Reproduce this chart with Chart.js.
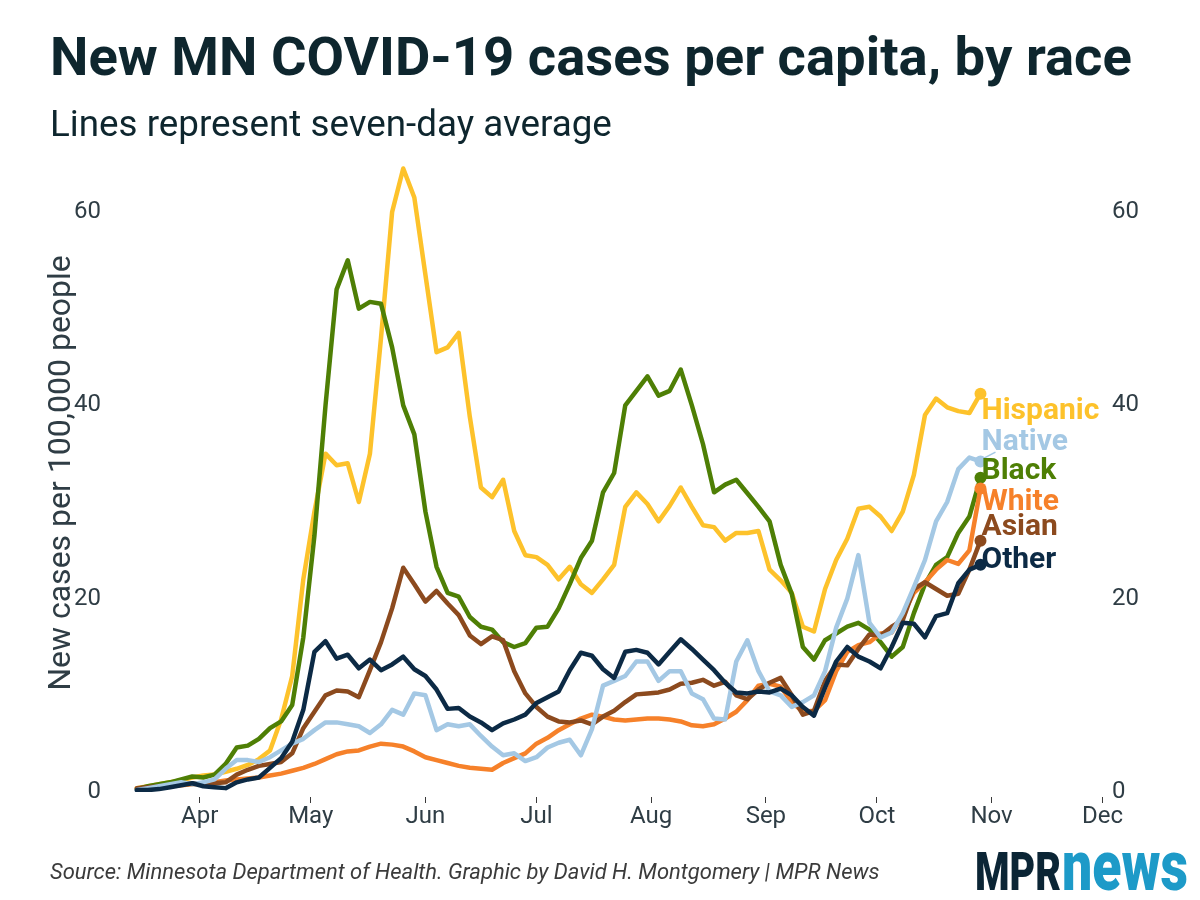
<!DOCTYPE html>
<html>
<head>
<meta charset="utf-8">
<script src="https://cdn.jsdelivr.net/npm/chart.js@4.4.0/dist/chart.umd.min.js"></script>
<style>
html,body{margin:0;padding:0;background:#fff;}
#wrap{position:relative;width:1200px;height:900px;overflow:hidden;background:#fff;}
#chart{position:absolute;left:0;top:0;}
.t{position:absolute;white-space:nowrap;line-height:1;font-family:Roboto,"Noto Sans",sans-serif;z-index:2;}
#title{font-weight:700;color:#0e262e;}
#subtitle{font-weight:400;color:#0e262e;}
#source{font-style:italic;font-weight:400;color:#3b3b3b;}
#logo{position:absolute;left:975px;top:0;height:900px;z-index:2;}
#logo span{position:absolute;white-space:nowrap;line-height:1;font-family:Roboto,sans-serif;transform-origin:0 0;}
#mpr{color:#0b2535;font-weight:900;}
#news{color:#1d9ac8;font-weight:900;}
</style>
</head>
<body>
<div id="wrap">
  <canvas id="chart" width="1200" height="900"></canvas>
  <div class="t" id="title">New MN COVID-19 cases per capita, by race</div>
  <div class="t" id="subtitle">Lines represent seven-day average</div>
  <div class="t" id="source">Source: Minnesota Department of Health. Graphic by David H. Montgomery | MPR News</div>
  <div id="logo"><span id="mpr">MPR</span><span id="news">news</span></div>
</div>
<script>
// ---- data (day of year 2020, Jan 1 = 0) ----
const days = [74,77,80,83,86,89,92,95,98,101,104,107,110,113,116,119,122,125,128,131,134,137,140,143,146,149,152,155,158,161,164,167,170,173,176,179,182,185,188,191,194,197,200,203,206,209,212,215,218,221,224,227,230,233,236,239,242,245,248,251,254,257,260,263,266,269,272,275,278,281,284,287,290,293,296,299,302];

const hispanic = [0.4,0.6,0.8,1.0,1.2,1.5,1.7,1.8,2.1,2.4,2.8,3.4,4.3,7.5,12,22,29,35,33.8,34,30,35,47,60,64.5,61.5,53.5,45.5,46,47.5,38.8,31.5,30.5,32.3,27,24.5,24.3,23.5,22,23.3,21.5,20.6,22,23.5,29.5,31,29.8,28,29.6,31.5,29.5,27.6,27.4,26,26.8,26.8,27,23,21.9,20.6,17.1,16.6,21,24,26.2,29.3,29.5,28.5,27,29,32.8,39,40.7,39.8,39.4,39.2,41.2];
const native = [0.2,0.4,0.6,0.8,1.0,0.8,1.0,1.3,2.4,3.3,3.3,3.1,3.6,4.3,5.0,5.5,6.4,7.2,7.2,7.0,6.8,6.1,7.0,8.5,8.0,10.2,10.0,6.4,7.0,6.8,7.0,5.8,4.7,3.8,4.0,3.2,3.6,4.6,5.1,5.4,3.8,6.5,11,11.5,12,13.5,13.5,11.5,12.5,12.5,10.2,9.6,7.6,7.5,13.5,15.7,12.5,10.4,10,8.8,9.3,10,12.5,17,20,24.5,17.5,16,16.5,18.5,21.2,24,28,30,33.4,34.6,34.2];
const black = [0.3,0.6,0.8,1.0,1.3,1.6,1.5,1.8,2.9,4.6,4.8,5.5,6.6,7.3,9.0,16,26.5,40,52,55,50,50.7,50.5,46,40,37,29,23.3,20.6,20.2,18.1,17.1,16.8,15.5,15,15.4,17,17.1,19,21.5,24.2,26,31,33,40,41.5,43,41,41.5,43.7,40,36,31,31.8,32.3,30.9,29.5,28,23.5,20.5,15,13.7,15.7,16.4,17.1,17.5,16.8,15.5,14,15,18.5,21.5,23.5,24.3,26.8,28.5,32.5];
const white = [0.3,0.4,0.5,0.6,0.7,0.8,0.9,1.0,1.2,1.3,1.4,1.5,1.7,1.9,2.2,2.5,2.9,3.4,3.9,4.2,4.3,4.7,5.0,4.9,4.7,4.2,3.6,3.3,3.0,2.7,2.5,2.4,2.3,3.0,3.5,4.0,5.0,5.6,6.4,7.0,7.6,8.0,7.8,7.5,7.4,7.5,7.6,7.6,7.5,7.3,6.9,6.8,7.0,7.6,8.3,9.5,11.0,11.2,10.9,9.3,8.3,8.4,9.5,12.5,14.5,15.2,15.5,16.4,16.5,18.3,20.6,21.7,23,24,23.6,25,31.4];
const asian = [0.4,0.5,0.6,0.7,0.8,0.9,0.8,0.9,1.0,1.8,2.3,2.7,2.9,3.1,4.0,6.6,8.3,10.0,10.5,10.4,9.8,12.6,15.5,19,23.2,21.5,19.7,20.8,19.5,18.3,16.2,15.3,16.1,15.7,12.5,10.2,8.8,7.8,7.3,7.2,7.4,7.0,7.8,8.4,9.3,10.1,10.2,10.3,10.6,11.2,11.3,11.6,11,11.4,10.0,9.6,10.6,11.3,11.8,10,8.0,8.4,11.5,13.2,13.1,14.8,16.3,16.2,17.1,17.8,21,21.7,21,20.3,20.5,23,26];
const other = [0.2,0.2,0.3,0.5,0.7,0.9,0.6,0.5,0.4,1.0,1.3,1.5,2.5,3.5,5.2,8.5,14.5,15.6,13.8,14.2,12.8,13.7,12.6,13.2,14.0,12.7,12.0,10.6,8.6,8.7,7.8,7.2,6.4,7.1,7.5,8.0,9.2,9.8,10.4,12.6,14.4,14.1,12.7,11.8,14.5,14.7,14.4,13.2,14.5,15.8,14.8,13.7,12.6,11.3,10.3,10.2,10.4,10.3,10.7,10.0,8.8,7.9,10.8,13.5,15,14,13.5,12.8,15,17.5,17.4,16,18.2,18.5,21.6,23,23.5];

const seriesNames = ['Hispanic','Native','Black','White','Asian','Other'];
const seriesValues = [hispanic, native, black, white, asian, other];
const monthDays = [91,121,152,182,213,244,274,305,335];
const monthLabels = ['Apr','May','Jun','Jul','Aug','Sep','Oct','Nov','Dec'];
const yTicks = [0,20,40,60];

// ---- styles / label placement ----
const seriesColors = ['#fdc22b','#a4c8e4','#4e7f05','#f6812a','#8c4a1e','#0c2a45'];
const drawOrder = [5,1,4,3,2,0];           // lower = drawn on top
const labelAt = [39.4,36.2,33.2,30.0,27.4,24.0]; // label centres, in data units
const connector = [false,true,false,false,false,false];

// ---- text fitting for header/footer ----
const meas = document.createElement('canvas').getContext('2d');
function place(id, font, text, targetW, left, baseline){
  meas.font = font + ' 100px Roboto';
  const w = meas.measureText(text).width;
  const size = 100 * targetW / w;
  const el = document.getElementById(id);
  el.style.fontSize = size.toFixed(2) + 'px';
  el.style.left = left + 'px';
  el.style.top = (baseline - 0.8415 * size).toFixed(1) + 'px';
}
place('title','700','New MN COVID-19 cases per capita, by race',1082,50,75);
place('subtitle','400','Lines represent seven-day average',562,50,137);
place('source','italic 400','Source: Minnesota Department of Health. Graphic by David H. Montgomery | MPR News',830,50,879);

function logoPart(id, text, capH, capRatio, targetW, left, baseline){
  const size = capH / capRatio;
  meas.font = '900 ' + size + 'px Roboto';
  const w = meas.measureText(text).width;
  const el = document.getElementById(id);
  el.style.fontSize = size.toFixed(2) + 'px';
  el.style.left = left + 'px';
  el.style.top = (baseline - 0.8415 * size).toFixed(1) + 'px';
  el.style.transform = 'scaleX(' + (targetW / w).toFixed(3) + ')';
}
logoPart('mpr','MPR',38,0.711,86,0,890);
logoPart('news','news',37,0.528,126,87,890);

// ---- chart ----
const endLabels = {
  id: 'endLabels',
  afterDatasetsDraw(chart){
    const ctx = chart.ctx, ys = chart.scales.y;
    ctx.save();
    ctx.font = 'bold 30px Roboto';
    ctx.textBaseline = 'middle';
    ctx.textAlign = 'left';
    chart.data.datasets.forEach((ds, i) => {
      const meta = chart.getDatasetMeta(i);
      const last = meta.data[meta.data.length - 1];
      const ly = ys.getPixelForValue(ds.labelAt);
      if (ds.connector) {
        ctx.strokeStyle = ds.borderColor;
        ctx.lineWidth = 1.5;
        ctx.beginPath();
        ctx.moveTo(last.x + 3, last.y - 3);
        ctx.lineTo(last.x + 15, ly + 10);
        ctx.stroke();
      }
      ctx.fillStyle = ds.borderColor;
      ctx.fillText(ds.label, last.x + 1, ly);
    });
    ctx.restore();
  }
};

const tickFont = {family: 'Roboto', size: 24};
const tickColor = '#2f3d45';

const datasets = seriesNames.map((name, i) => ({
  label: name,
  data: days.map((d, j) => ({x: d, y: seriesValues[i][j]})),
  borderColor: seriesColors[i],
  backgroundColor: seriesColors[i],
  borderWidth: 4.5,
  borderJoinStyle: 'round',
  borderCapStyle: 'round',
  tension: 0,
  fill: false,
  order: drawOrder[i],
  pointRadius: c => c.dataIndex === days.length - 1 ? 6 : 0,
  pointHoverRadius: 0,
  pointBorderWidth: 0,
  pointBackgroundColor: seriesColors[i],
  labelAt: labelAt[i],
  connector: connector[i]
}));

const yCommon = {
  type: 'linear', min: 0, max: 66,
  afterBuildTicks: s => { s.ticks = yTicks.map(v => ({value: v})); },
  grid: {display: false, drawTicks: false},
  border: {display: false},
};

new Chart(document.getElementById('chart'), {
  type: 'line',
  data: {datasets},
  options: {
    responsive: false,
    animation: false,
    layout: {padding: {left: 0, right: 0, top: 154, bottom: 0}},
    plugins: {legend: {display: false}, tooltip: {enabled: false}, title: {display: false}},
    scales: {
      x: {
        type: 'linear', min: 70, max: 337,
        afterBuildTicks: s => { s.ticks = monthDays.map(v => ({value: v})); },
        afterFit: s => { s.height = 108; },
        ticks: {
          autoSkip: false, maxRotation: 0, padding: 0,
          font: tickFont, color: tickColor,
          callback: v => monthLabels[monthDays.indexOf(v)]
        },
        grid: {drawOnChartArea: false, drawTicks: true, tickLength: 11, tickColor: '#3a3a3a', tickWidth: 1, tickBorderDash: [0, 5, 6, 30]},
        border: {display: false}
      },
      y: Object.assign({}, yCommon, {
        position: 'left',
        afterFit: s => { s.width = 122; },
        ticks: {font: tickFont, color: tickColor, padding: 21},
        title: {display: true, text: 'New cases per 100,000 people', font: {family: 'Roboto', size: 32}, color: '#2f3d45', padding: {top: 43, bottom: 0}}
      }),
      y2: Object.assign({}, yCommon, {
        position: 'right',
        afterFit: s => { s.width = 90; },
        ticks: {font: tickFont, color: tickColor, padding: 2}
      })
    }
  },
  plugins: [endLabels]
});
</script>
</body>
</html>
